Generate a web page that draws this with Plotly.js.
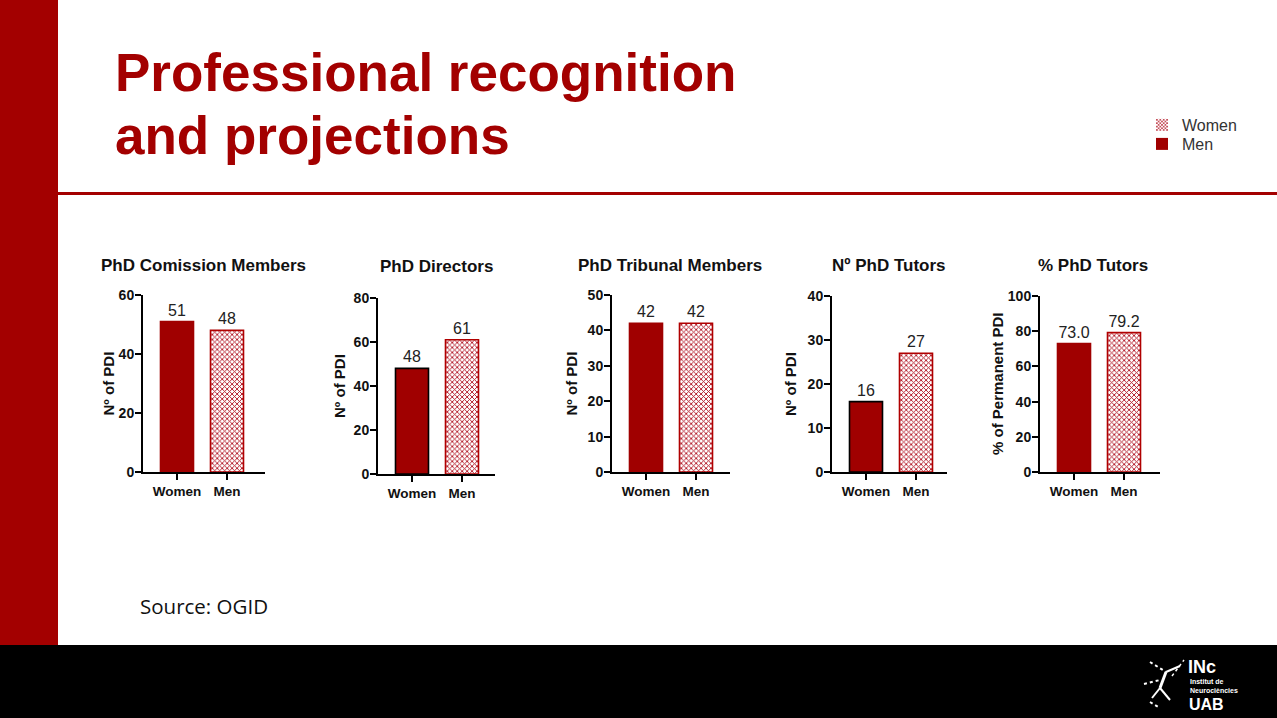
<!DOCTYPE html>
<html>
<head>
<meta charset="utf-8">
<script src="https://cdn.plot.ly/plotly-3.0.1.min.js"></script>
<style>
html,body{margin:0;padding:0;background:#fff;}
#chart{width:1277px;height:718px;}
</style>
</head>
<body>
<div id="chart"></div>
<script>
// ---- data ----
const categories = ['Women', 'Men'];
const chartTitles = ['PhD Comission Members', 'PhD Directors', 'PhD Tribunal Members', 'Nº PhD Tutors', '% PhD Tutors'];
const yAxisTitles = ['Nº of PDI', 'Nº of PDI', 'Nº of PDI', 'Nº of PDI', '% of Permanent PDI'];
const commissionMembers = [51, 48];
const phdDirectors = [48, 61];
const tribunalMembers = [42, 42];
const tutorsCount = [16, 27];
const tutorsPercent = [73.0, 79.2];
const yMax = [60, 80, 50, 40, 100];
const yStep = [20, 20, 10, 10, 20];
const valueFormats = ['%{y}', '%{y}', '%{y}', '%{y}', '%{y:.1f}'];
const legendLabels = ['Women', 'Men'];
const titleLines = ['Professional recognition', 'and projections'];

const seriesList = [commissionMembers, phdDirectors, tribunalMembers, tutorsCount, tutorsPercent];

// ---- layout config (pixel geometry) ----
const W = 1277, H = 718;
const px = x => x / W;
const py = y => 1 - y / H;
const RED = '#a00000';
const panels = [
  {ax: 143, end: 265, top: 295, bot: 472, titleX: 203, titleY: 265, yTitleX: 108, womenLine: RED},
  {ax: 378, end: 495, top: 298, bot: 474, titleX: 436, titleY: 267, yTitleX: 339, womenLine: '#000'},
  {ax: 612, end: 730, top: 295, bot: 472, titleX: 670, titleY: 265, yTitleX: 571, womenLine: RED},
  {ax: 832, end: 947, top: 296, bot: 472, titleX: 889, titleY: 265, yTitleX: 790, womenLine: '#000'},
  {ax: 1040, end: 1160, top: 296, bot: 472, titleX: 1093, titleY: 265, yTitleX: 997, womenLine: RED}
];

const FONT = 'Liberation Sans, Arial, sans-serif';
const menPattern = {shape: 'x', fgcolor: '#b01020', bgcolor: '#ffffff', size: 3.5, solidity: 0.45};
const traces = [];
const legendCommon = {
  xanchor: 'left', yanchor: 'middle',
  font: {family: FONT, size: 16, color: '#333'},
  bgcolor: 'rgba(0,0,0,0)', itemwidth: 30
};
const layout = {
  width: W, height: H,
  margin: {l: 0, r: 0, t: 0, b: 0},
  paper_bgcolor: '#fff',
  plot_bgcolor: 'rgba(0,0,0,0)',
  showlegend: true,
  barmode: 'overlay',
  font: {family: FONT, color: '#000'},
  legend: Object.assign({x: px(1142), y: py(125)}, legendCommon),
  legend2: Object.assign({x: px(1142), y: py(144)}, legendCommon),
  annotations: [],
  shapes: []
};

panels.forEach((p, i) => {
  const n = i + 1;
  const sfx = (n === 1 ? '' : String(n));
  const span = (p.end - p.ax);
  const unit = 50;
  const r0 = -34 / unit;
  const r1 = r0 + span / unit;
  layout['xaxis' + sfx] = {
    domain: [px(p.ax), px(p.end)],
    anchor: 'y' + sfx,
    range: [r0, r1],
    type: 'linear',
    tickvals: [0, 1], ticktext: categories,
    showline: true, linecolor: '#000', linewidth: 2,
    ticks: 'outside', ticklen: 6, tickwidth: 2, tickcolor: '#000',
    showgrid: false, zeroline: false,
    tickfont: {family: FONT, size: 13.5, color: '#111', weight: 'bold'},
    fixedrange: true
  };
  layout['yaxis' + sfx] = {
    domain: [py(p.bot), py(p.top)],
    anchor: 'x' + sfx,
    range: [0, yMax[i]], dtick: yStep[i], tick0: 0,
    showline: true, linecolor: '#000', linewidth: 2,
    ticks: 'outside', ticklen: 6, tickwidth: 2, tickcolor: '#000',
    ticklabelstandoff: -2,
    showgrid: false, zeroline: false,
    tickfont: {family: FONT, size: 14, color: '#111', weight: 'bold'},
    fixedrange: true
  };
  const vals = seriesList[i];
  // Women bar (solid)
  traces.push({
    type: 'bar', x: [0], y: [vals[0]],
    xaxis: 'x' + sfx, yaxis: 'y' + sfx,
    width: 0.66, showlegend: false,
    marker: {color: RED, line: {color: p.womenLine, width: 1.6}},
    texttemplate: valueFormats[i], textposition: 'outside',
    textfont: {family: FONT, size: 16, color: '#222'},
    cliponaxis: false, hoverinfo: 'skip'
  });
  // Men bar (checkered)
  traces.push({
    type: 'bar', x: [1], y: [vals[1]],
    xaxis: 'x' + sfx, yaxis: 'y' + sfx,
    width: 0.66, showlegend: false,
    marker: {color: '#ffffff', line: {color: '#b00000', width: 1.6}, pattern: menPattern},
    texttemplate: valueFormats[i], textposition: 'outside',
    textfont: {family: FONT, size: 16, color: '#222'},
    cliponaxis: false, hoverinfo: 'skip'
  });
  layout.annotations.push({
    xref: 'paper', yref: 'paper', x: px(p.titleX), y: py(p.titleY),
    xanchor: 'center', yanchor: 'middle', showarrow: false,
    text: chartTitles[i],
    font: {family: FONT, size: 17, color: '#111', weight: 'bold'}
  });
  layout.annotations.push({
    xref: 'paper', yref: 'paper', x: px(p.yTitleX), y: py((p.top + p.bot) / 2),
    xanchor: 'center', yanchor: 'middle', showarrow: false, textangle: -90,
    text: yAxisTitles[i],
    font: {family: FONT, size: 15, color: '#111', weight: 'bold'}
  });
});

// legend-only traces on a hidden axis
layout.xaxis6 = {domain: [0, 0.001], visible: false, anchor: 'y6', range: [0, 1], fixedrange: true};
layout.yaxis6 = {domain: [0, 0.001], visible: false, anchor: 'x6', range: [0, 1], fixedrange: true};
traces.push({
  type: 'bar', x: [0.5], y: [0], xaxis: 'x6', yaxis: 'y6', name: legendLabels[0], legend: 'legend',
  marker: {color: '#ffffff', line: {width: 0}, pattern: {shape: 'x', fgcolor: '#b01020', bgcolor: '#ffffff', size: 3, solidity: 0.45}},
  hoverinfo: 'skip'
});
traces.push({
  type: 'bar', x: [0.5], y: [0], xaxis: 'x6', yaxis: 'y6', name: legendLabels[1], legend: 'legend2',
  marker: {color: RED, line: {width: 0}},
  hoverinfo: 'skip'
});

// slide decoration
layout.shapes.push(
  {type: 'rect', xref: 'paper', yref: 'paper', x0: 0, x1: px(58), y0: py(645), y1: 1, fillcolor: '#a30000', line: {width: 0}, layer: 'below'},
  {type: 'rect', xref: 'paper', yref: 'paper', x0: 0, x1: 1, y0: 0, y1: py(645), fillcolor: '#000', line: {width: 0}, layer: 'below'},
  {type: 'rect', xref: 'paper', yref: 'paper', x0: px(58), x1: 1, y0: py(195), y1: py(192), fillcolor: '#a30000', line: {width: 0}, layer: 'below'},
  // logo figure (white strokes)
  {type: 'line', xref: 'paper', yref: 'paper', x0: px(1150), y0: py(662), x1: px(1166), y1: py(672), line: {color: '#fff', width: 2, dash: 'dot'}},
  {type: 'line', xref: 'paper', yref: 'paper', x0: px(1166), y0: py(672), x1: px(1180), y1: py(666), line: {color: '#fff', width: 2}},
  {type: 'line', xref: 'paper', yref: 'paper', x0: px(1166), y0: py(672), x1: px(1160), y1: py(688), line: {color: '#fff', width: 3}},
  {type: 'line', xref: 'paper', yref: 'paper', x0: px(1144), y0: py(684), x1: px(1160), y1: py(680), line: {color: '#fff', width: 2, dash: 'dot'}},
  {type: 'line', xref: 'paper', yref: 'paper', x0: px(1160), y0: py(688), x1: px(1170), y1: py(700), line: {color: '#fff', width: 2}},
  {type: 'line', xref: 'paper', yref: 'paper', x0: px(1160), y0: py(688), x1: px(1152), y1: py(698), line: {color: '#fff', width: 2}},
  {type: 'line', xref: 'paper', yref: 'paper', x0: px(1150), y0: py(702), x1: px(1160), y1: py(708), line: {color: '#fff', width: 2, dash: 'dot'}},
  {type: 'line', xref: 'paper', yref: 'paper', x0: px(1172), y0: py(676), x1: px(1184), y1: py(660), line: {color: '#fff', width: 1.5, dash: 'dot'}}
);

// slide text
layout.annotations.push(
  {xref: 'paper', yref: 'paper', x: px(113), y: py(72), xanchor: 'left', yanchor: 'middle', align: 'left', showarrow: false,
   text: titleLines[0], font: {family: FONT, size: 53, color: '#a30000', weight: 'bold'}},
  {xref: 'paper', yref: 'paper', x: px(113), y: py(135), xanchor: 'left', yanchor: 'middle', align: 'left', showarrow: false,
   text: titleLines[1], font: {family: FONT, size: 53, color: '#a30000', weight: 'bold'}},
  {xref: 'paper', yref: 'paper', x: px(138), y: py(606), xanchor: 'left', yanchor: 'middle', showarrow: false,
   text: 'Source: OGID', font: {family: 'Open Sans, Noto Sans, sans-serif', size: 20.5, color: '#111'}},
  {xref: 'paper', yref: 'paper', x: px(1186), y: py(667), xanchor: 'left', yanchor: 'middle', showarrow: false,
   text: 'INc', font: {family: FONT, size: 18, color: '#fff', weight: 'bold'}},
  {xref: 'paper', yref: 'paper', x: px(1188), y: py(686), xanchor: 'left', yanchor: 'middle', showarrow: false, align: 'left',
   text: 'Institut de<br>Neurociències', font: {family: FONT, size: 7, color: '#fff', weight: 'bold'}},
  {xref: 'paper', yref: 'paper', x: px(1187), y: py(704), xanchor: 'left', yanchor: 'middle', showarrow: false,
   text: 'UAB', font: {family: FONT, size: 16, color: '#fff', weight: 'bold'}}
);

Plotly.newPlot('chart', traces, layout, {staticPlot: true, displayModeBar: false});
</script>
</body>
</html>
